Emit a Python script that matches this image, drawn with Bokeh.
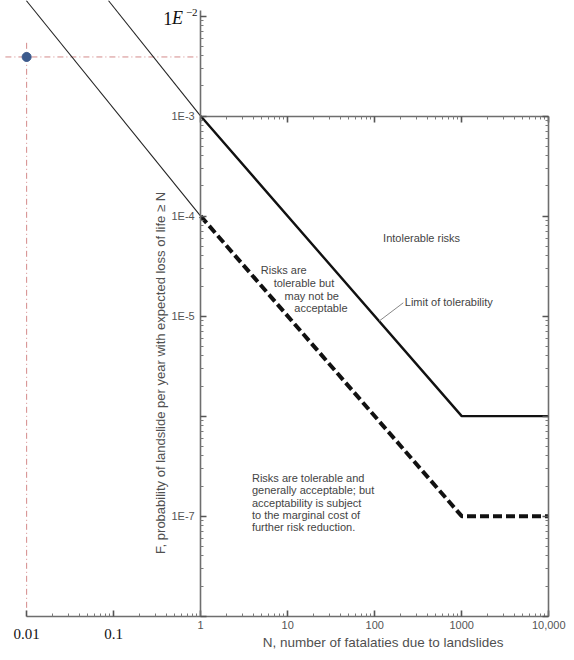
import json
import math

from bokeh.plotting import figure
from bokeh.models import (LogAxis, FixedTicker, CustomJSTickFormatter, Label,
                          Range1d, Grid)
from bokeh.embed import file_html
from bokeh.resources import INLINE

# ---------------- data ----------------
# F-N criterion lines (N fatalities, F annual probability)
tolerable_N = [1, 1000, 10000]
tolerable_F = [1e-3, 1e-6, 1e-6]
acceptable_N = [1, 1000, 10000]
acceptable_F = [1e-4, 1e-7, 1e-7]
# thin extensions of both lines to the left of N = 1
ext_tolerable_N = [0.087, 1]
ext_tolerable_F = [0.0143, 1e-3]
ext_acceptable_N = [0.0099, 1]
ext_acceptable_F = [0.0143, 1e-4]
# single plotted point and its dash-dot guides
point_N = [0.01]
point_F = [3.9e-3]
guide_h_N = [0.0057, 1]
guide_v_F = [5.4e-3, 1e-8]
# ticks and labels
x_ticks = [0.01, 0.1, 1, 10, 100, 1000, 10000]
x_labels = ["0.01", "0.1", "1", "10", "100", "1000", "10,000"]
y_ticks = [1e-8, 1e-7, 1e-6, 1e-5, 1e-4, 1e-3, 1e-2]
y_labels = ["", "1E-7", "", "1E-5", "1E-4", "1E-3", ""]

# ---------------- layout helpers ----------------
W, H = 566, 652            # figure size (reference is 574 x 660)
X0, DX = 203.0, 88.25      # reference px of N=1, px per decade
Y0, DY = 117.0, 101.25     # reference px of F=1e-3, px per decade


def at(px, py):
    """reference pixel -> data coordinates"""
    return 10 ** ((px - X0) / DX), 10 ** (-3 - (py - Y0) / DY)


x_lo, y_top = at(0, 0)
x_hi, y_bot = at(574, 660)

p = figure(width=W, height=H, x_axis_type="log", y_axis_type="log",
           x_range=Range1d(x_lo, x_hi), y_range=Range1d(y_bot, y_top),
           x_axis_location=None, y_axis_location=None,
           toolbar_location=None, output_backend="svg",
           min_border=0, outline_line_color=None,
           background_fill_color="white", border_fill_color="white")
p.center = [r for r in p.center if not isinstance(r, Grid)]

minor_all = [m * 10 ** e for e in range(-9, 5) for m in range(2, 10)]


def ticker(majors, lo, hi):
    eps = 1e-9
    return FixedTicker(
        ticks=[t for t in majors if lo * (1 - eps) <= t <= hi * (1 + eps)],
        minor_ticks=[t for t in minor_all if lo * (1 - eps) <= t <= hi * (1 + eps)])


def fmt(ticks, labels, keep):
    m = {str(round(math.log10(t))): (lab if keep(t) else "") for t, lab in zip(ticks, labels)}
    code = ("const m = %s; const k = String(Math.round(Math.log10(tick)));"
            " return (k in m) ? m[k] : '';") % json.dumps(m)
    return CustomJSTickFormatter(code=code)


AX = dict(axis_line_color="#6e6e6e", axis_line_width=1.6,
          major_tick_in=6, major_tick_out=0, minor_tick_in=3, minor_tick_out=0,
          major_tick_line_color="#555555", major_tick_line_width=1.6,
          minor_tick_line_color="#7a7a7a", minor_tick_line_width=1,
          major_label_text_font="Liberation Sans",
          major_label_text_font_size="11px",
          major_label_text_color="#555555")

# bottom axis (N)
xax = LogAxis(ticker=ticker(x_ticks, 0.01, 10000),
              formatter=fmt(x_ticks, x_labels, lambda t: t >= 1),
              fixed_location=1e-8, bounds=(0.01, 10000),
              major_label_standoff=5, **AX)
p.add_layout(xax, "below")
# serif labels 0.01 / 0.1
xax2 = LogAxis(ticker=FixedTicker(ticks=[t for t in x_ticks if t < 1], minor_ticks=[]),
               formatter=fmt(x_ticks, x_labels, lambda t: t < 1),
               fixed_location=1e-8, bounds=(0.01, 10000),
               axis_line_color=None, major_tick_line_color=None,
               minor_tick_line_color=None,
               major_label_text_font="Liberation Serif",
               major_label_text_font_size="15px",
               major_label_text_color="#111111", major_label_standoff=7)
p.add_layout(xax2, "below")

# left axis (F) at N = 1
yax = LogAxis(ticker=ticker(y_ticks, 1e-8, 1.14e-2),
              formatter=fmt(y_ticks, y_labels, lambda t: True),
              fixed_location=1, bounds=(1e-8, 1.14e-2),
              major_label_standoff=6, **AX)
p.add_layout(yax, "left")

# frame: top edge at F = 1e-3, right edge at N = 10000
top_ax = LogAxis(ticker=ticker(x_ticks, 1, 10000),
                 fixed_location=1e-3, bounds=(1, 10000), **AX)
top_ax.major_label_text_color = None
p.add_layout(top_ax, "above")
right_ax = LogAxis(ticker=ticker(y_ticks, 1e-8, 1e-3),
                   fixed_location=10000, bounds=(1e-8, 1e-3), **AX)
right_ax.major_label_text_color = None
p.add_layout(right_ax, "right")

# ---------------- marks ----------------
guide = dict(line_color="#d48a8a", line_width=1, line_dash="6 3 1 3")
p.line(guide_h_N, [point_F[0]] * 2, **guide)
p.line([point_N[0]] * 2, guide_v_F, **guide)

p.line(ext_tolerable_N, ext_tolerable_F, line_color="#222222", line_width=1.1)
p.line(ext_acceptable_N, ext_acceptable_F, line_color="#222222", line_width=1.1)

p.line(tolerable_N, tolerable_F, line_color="#111111", line_width=2.4)
p.line(acceptable_N, acceptable_F, line_color="#111111", line_width=4,
       line_dash="9 4")

p.scatter(point_N, point_F, size=9, color="#3c5a8c")

# ---------------- texts ----------------
TXT = dict(text_font="Liberation Sans", text_font_size="11px",
           text_color="#444444", text_baseline="middle")


def label(px, py, text, **kw):
    x, y = at(px, py)
    opts = dict(TXT)
    opts.update(kw)
    p.add_layout(Label(x=x, y=y, text=text, **opts))


label(388, 240, "Intolerable risks")
for (lx, ly, t) in [(264, 273, "Risks are"), (277, 286, "tolerable but"),
                    (288, 299, "may not be"), (298, 311, "acceptable")]:
    label(lx, ly, t)
label(410, 305, "Limit of tolerability")
for i, t in enumerate(["Risks are tolerable and", "generally acceptable; but",
                       "acceptability is subject", "to the marginal cost of",
                       "further risk reduction."]):
    label(255, 483 + i * 12.6, t)

# leader line for "Limit of tolerability"
lx0, ly0 = at(408.5, 306)
lx1, ly1 = at(384, 324.5)
p.segment(x0=[lx0], y0=[ly0], x1=[lx1], y1=[ly1], line_color="#888888", line_width=1)

# axis titles
label(162, 377, "F, probability of landslide per year with expected loss of life \u2265 N",
      angle=math.pi / 2, text_align="center", text_font_size="13px",
      text_color="#505050")
label(388, 650, "N, number of fatalaties due to landslides",
      text_align="center", text_font_size="13.5px", text_color="#505050")

# 1E^-2 label (math style)
label(165, 18, "1", text_font="Liberation Serif", text_font_size="18px",
      text_color="#111111")
label(174, 18, "E", text_font="Liberation Serif", text_font_size="18px",
      text_font_style="italic", text_color="#111111")
label(188, 12, "\u22122", text_font="Liberation Serif", text_font_size="11px",
      text_color="#111111")

open("out.html", "w").write(file_html(p, INLINE, "F-N chart"))
